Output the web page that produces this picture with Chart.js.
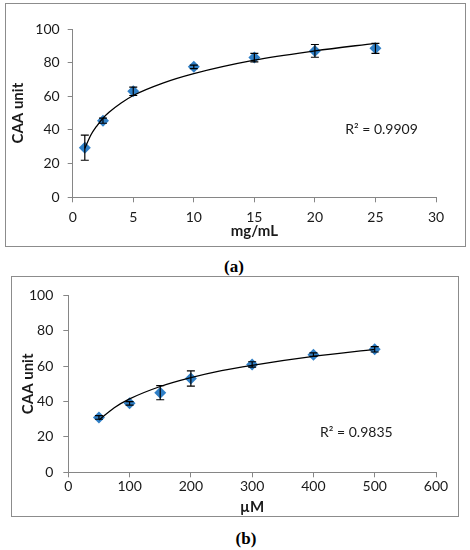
<!DOCTYPE html>
<html lang="en">
<head>
    <meta charset="UTF-8">
    <title>CAA unit</title>
    <style>
        body {
            margin: 0;
            background: #fff;
            width: 470px;
            height: 550px;
            position: relative;
            overflow: hidden;
        }
        .frame {
            position: absolute;
            border: 1px solid #8c8c8c;
        }
        #frameA { left: 5px; top: 3px; width: 459px; height: 242px; }
        #frameB { left: 11px; top: 276px; width: 446px; height: 239px; }
        .caption {
            position: absolute;
            font-family: "Liberation Serif", serif;
            font-weight: bold;
            font-size: 17px;
            color: #000;
            transform: translate(-50%, -50%);
        }
    </style>
    <script src="https://cdn.jsdelivr.net/npm/chart.js"></script>
</head>
<body>
    <div class="frame" id="frameA"><canvas id="chartA" width="459" height="242"></canvas></div>
    <div class="caption" style="left:234px; top:267px;">(a)</div>
    <div class="frame" id="frameB"><canvas id="chartB" width="446" height="239"></canvas></div>
    <div class="caption" style="left:246px; top:539px;">(b)</div>

    <script>
        // panel (a): extract concentration, mg/mL
        const concA = [1, 2.5, 5, 10, 15, 20, 25];
        const caaA = [29.5, 45.5, 63, 77.5, 83, 87, 88.5];
        const errA = [7.5, 1.5, 2.5, 1, 2.5, 3.8, 3];
        // logarithmic trendline
        const trendXA = [1, 1.5, 2, 2.5, 3, 4, 5, 7.5, 10, 15, 20, 25];
        const trendYA = [29, 37, 42.5, 47, 50.5, 56, 60.5, 68, 73.5, 81.5, 87, 91.5];
        const r2A = 'R² = 0.9909';
        const r2PosA = [25.5, 40];

        // panel (b): concentration, µM
        const concB = [50, 100, 150, 200, 300, 400, 500];
        const caaB = [31, 39, 45, 53, 61, 66.5, 69.5];
        const errB = [1, 1, 4, 4.3, 1.5, 1, 1.5];
        const trendXB = [50, 75, 100, 150, 200, 250, 300, 400, 500];
        const trendYB = [29.5, 36.5, 41.5, 48.5, 53.5, 57.5, 60.5, 65.5, 69.5];
        const r2B = 'R² = 0.9835';
        const r2PosB = [470, 22.7];

        const FONT = 'Lato';
        const BLUE = '#2f7fc6';
        const AXIS = '#868686';

        // error bars and R² label
        const extras = {
            id: 'extras',
            afterDatasetsDraw(chart, args, opts) {
                const ctx = chart.ctx;
                const xs = chart.scales.x, ys = chart.scales.y;
                ctx.save();
                ctx.strokeStyle = '#000';
                ctx.lineWidth = 1.2;
                opts.x.forEach((v, i) => {
                    const px = xs.getPixelForValue(v);
                    const top = ys.getPixelForValue(opts.y[i] + opts.err[i]);
                    const bot = ys.getPixelForValue(opts.y[i] - opts.err[i]);
                    ctx.beginPath();
                    ctx.moveTo(px, top); ctx.lineTo(px, bot);
                    ctx.moveTo(px - 4, top); ctx.lineTo(px + 4, top);
                    ctx.moveTo(px - 4, bot); ctx.lineTo(px + 4, bot);
                    ctx.stroke();
                });
                ctx.fillStyle = '#1a1a1a';
                ctx.font = '14px ' + FONT;
                ctx.textAlign = 'center';
                ctx.textBaseline = 'middle';
                ctx.fillText(opts.label, xs.getPixelForValue(opts.pos[0]), ys.getPixelForValue(opts.pos[1]));
                ctx.restore();
            }
        };

        function makeChart(id, cfg) {
            const pts = cfg.x.map((v, i) => ({ x: v, y: cfg.y[i] }));
            const trend = cfg.tx.map((v, i) => ({ x: v, y: cfg.ty[i] }));
            new Chart(document.getElementById(id), {
                type: 'scatter',
                data: {
                    datasets: [
                        {
                            data: trend,
                            showLine: true,
                            borderColor: '#000',
                            borderWidth: 1.3,
                            pointRadius: 0,
                            cubicInterpolationMode: 'monotone'
                        },
                        {
                            data: pts,
                            pointStyle: 'rectRot',
                            pointRadius: 6,
                            backgroundColor: BLUE,
                            borderColor: BLUE,
                            borderWidth: 0
                        }
                    ]
                },
                options: {
                    responsive: false,
                    animation: false,
                    layout: { padding: cfg.padding },
                    plugins: {
                        legend: { display: false },
                        tooltip: { enabled: false },
                        extras: { x: cfg.x, y: cfg.y, err: cfg.err, label: cfg.r2, pos: cfg.r2Pos }
                    },
                    scales: {
                        x: {
                            type: 'linear',
                            min: cfg.xMin, max: cfg.xMax,
                            ticks: { stepSize: cfg.xStep, color: '#1a1a1a', font: { family: FONT, size: 14 }, padding: cfg.xTickPad },
                            grid: { drawOnChartArea: false, tickLength: 5, color: AXIS },
                            border: { color: AXIS, width: 1 },
                            title: { display: true, text: cfg.xTitle, color: '#1a1a1a', font: { family: FONT, size: 15, weight: 'bold' }, padding: { top: 0, bottom: cfg.xTitlePad } },
                            afterFit(s) { s.height = cfg.xHeight; }
                        },
                        y: {
                            min: 0, max: 100,
                            ticks: { stepSize: 20, color: '#1a1a1a', font: { family: FONT, size: 14 }, padding: cfg.yTickPad },
                            grid: { drawOnChartArea: false, tickLength: 5, color: AXIS },
                            border: { color: AXIS, width: 1 },
                            title: { display: true, text: 'CAA unit', color: '#1a1a1a', font: { family: FONT, size: 15, weight: 'bold' }, padding: { top: cfg.yTitlePad, bottom: 0 } },
                            afterFit(s) { s.width = cfg.yWidth; }
                        }
                    }
                },
                plugins: [extras]
            });
        }

        makeChart('chartA', {
            x: concA, y: caaA, err: errA, tx: trendXA, ty: trendYA, r2: r2A, r2Pos: r2PosA,
            xMin: 0, xMax: 30, xStep: 5, xTitle: 'mg/mL',
            padding: { left: 0, top: 25, right: 29, bottom: 0 },
            xHeight: 48.7, yWidth: 66.7, xTickPad: 7, yTickPad: 8, xTitlePad: 6, yTitlePad: 3
        });

        makeChart('chartB', {
            x: concB, y: caaB, err: errB, tx: trendXB, ty: trendYB, r2: r2B, r2Pos: r2PosB,
            xMin: 0, xMax: 600, xStep: 100, xTitle: 'µM',
            padding: { left: 0, top: 18, right: 22, bottom: 0 },
            xHeight: 43.7, yWidth: 56.3, xTickPad: 1, yTickPad: 10, xTitlePad: 0, yTitlePad: 7
        });
    </script>
</body>
</html>
